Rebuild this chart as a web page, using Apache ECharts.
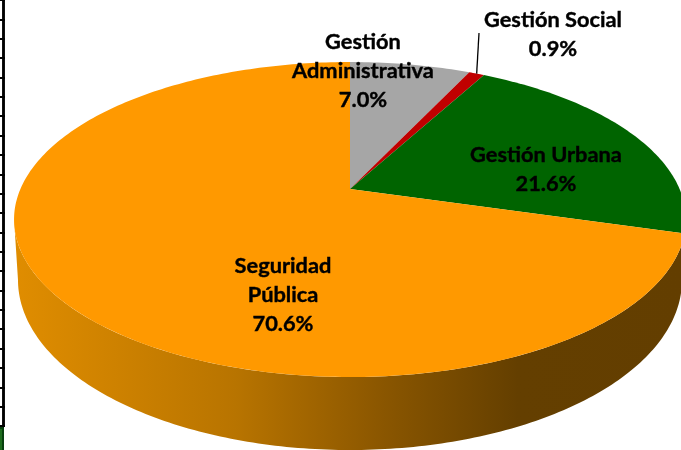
<!DOCTYPE html>
<html><head><meta charset="utf-8">
<style>html,body{margin:0;padding:0;background:#fff}#c{width:681px;height:450px}</style>
<script src="https://cdn.jsdelivr.net/npm/echarts@6/dist/echarts.min.js"></script>
</head><body><div id="c"></div>
<script>
// Data, clockwise from the back of the disc
const categories = ['Gestión Administrativa', 'Gestión Social', 'Gestión Urbana', 'Seguridad Pública'];
const shares = [7.0, 0.9, 21.6, 70.6];
const sliceColors = ['#A6A6A6', '#C00000', '#006400', '#FF9900'];
const labelLines = [['Gestión', 'Administrativa', '7.0%'], ['Gestión Social', '0.9%'], ['Gestión Urbana', '21.6%'], ['Seguridad', 'Pública', '70.6%']];

// Perspective disc projection
const A = { x: 350, y: 189 }, RX = 329.6, HY = 151.6, K = -0.1937;
function project(t) {            // t: fraction of the full turn from the back, clockwise
  const th = t * 2 * Math.PI, u = Math.sin(th), v = -Math.cos(th), w = 1 + K * v;
  return [A.x + RX * u / w, A.y + HY * v / w];
}
const total = shares.reduce((a, b) => a + b, 0);
const startOf = i => shares.slice(0, i).reduce((a, b) => a + b, 0) / total;

function slicePoints(i) {
  const s = startOf(i), e = startOf(i + 1), pts = [[A.x, A.y]];
  const n = Math.max(8, Math.ceil((e - s) * 360));
  for (let k = 0; k <= n; k++) pts.push(project(s + (e - s) * k / n));
  return pts;
}
function wallPoints() {
  const pts = [];
  // top rim, right extreme round the front to left extreme
  for (let d = 101; d <= 259; d++) pts.push(project(d / 360));
  // bottom rim ellipse, left to right along the front
  const bc = { x: 350, y: 280, a: 332, b: 170 };
  for (let d = 180; d >= 0; d--) {
    const r = d * Math.PI / 180;
    pts.push([bc.x + bc.a * Math.cos(r), bc.y + bc.b * Math.sin(r)]);
  }
  return pts;
}
const labelAnchors = [[363, 70.5], [553, 34], [546, 169], [283, 295]];

const wallGradient = {
  type: 'linear', x: 0, y: 0, x2: 1, y2: 0,
  colorStops: [
    { offset: 0, color: '#E08D00' },
    { offset: 0.33, color: '#B87400' },
    { offset: 0.55, color: '#8A5600' },
    { offset: 0.75, color: '#643F00' },
    { offset: 1, color: '#633E00' }
  ]
};

const option = {
  animation: false,
  backgroundColor: '#fff',
  grid: { left: 3, top: -16, width: 1, height: 442, containLabel: false },
  xAxis: { type: 'value', show: false, min: 0, max: 1 },
  yAxis: [
    { inside: true, length: 2 },
    { inside: false, length: 3 }
  ].map(t => ({
    type: 'value', min: 0, max: 22, interval: 1, position: 'left',
    axisLabel: { show: false }, splitLine: { show: false }, minorTick: { show: false },
    axisLine: { show: true, onZero: false, lineStyle: { color: '#000', width: 2.5 } },
    axisTick: { show: true, inside: t.inside, length: t.length, lineStyle: { color: '#000', width: 2 } }
  })),
  graphic: [
    { type: 'rect', shape: { x: -1, y: 428, width: 4, height: 30 }, style: { fill: '#1D6B1D', stroke: '#06400E', lineWidth: 2 } }
  ],
  series: [{
    type: 'custom',
    coordinateSystem: 'none',
    silent: true,
    clip: false,
    data: shares.map((v, i) => ({ name: categories[i], value: [v, i] })),
    renderItem(params, api) {
      const i = api.value(1);
      const kids = [];
      if (i === 0) kids.push({ type: 'polygon', shape: { points: wallPoints() }, style: { fill: wallGradient } });
      kids.push({ type: 'polygon', shape: { points: slicePoints(i) }, style: { fill: sliceColors[i] } });
      return { type: 'group', children: kids };
    },
    z: 2
  }, {
    type: 'custom',
    coordinateSystem: 'none',
    silent: true,
    data: shares.map((v, i) => ({ name: categories[i], value: [v, i] })),
    renderItem(params, api) {
      const i = api.value(1);
      const kids = [{
        type: 'text',
        style: {
          x: labelAnchors[i][0], y: labelAnchors[i][1],
          text: labelLines[i].join('\n'), align: 'center', verticalAlign: 'middle',
          font: 'bold 21.8px Lato', lineHeight: 29, fill: '#000',
          stroke: '#000', lineWidth: 0.4
        }
      }];
      if (i === 1) {
        const rim = project(startOf(1) + shares[1] / total / 2);
        kids.push({ type: 'line', shape: { x1: 479, y1: 33, x2: rim[0], y2: rim[1] }, style: { stroke: '#000', lineWidth: 1.3 } });
      }
      return { type: 'group', children: kids };
    },
    z: 5
  }]
};
const chart = echarts.init(document.getElementById('c'), null, { renderer: 'canvas' });
chart.setOption(option);
</script></body></html>
